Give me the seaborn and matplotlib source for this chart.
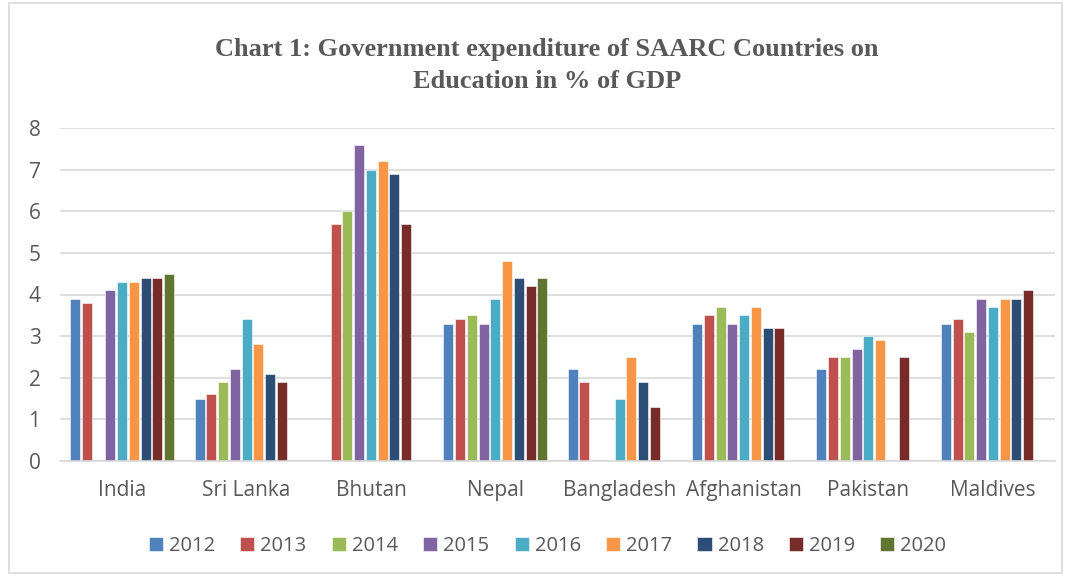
import numpy as np
import pandas as pd
import matplotlib.pyplot as plt
import seaborn as sns
from matplotlib.patches import Rectangle

countries = ["India", "Sri Lanka", "Bhutan", "Nepal", "Bangladesh",
             "Afghanistan", "Pakistan", "Maldives"]
years = ["2012", "2013", "2014", "2015", "2016", "2017", "2018", "2019", "2020"]

nan = np.nan
india = [3.9, 3.8, nan, 4.1, 4.3, 4.3, 4.4, 4.4, 4.5]
sri_lanka = [1.5, 1.6, 1.9, 2.2, 3.4, 2.8, 2.1, 1.9, nan]
bhutan = [nan, 5.7, 6.0, 7.6, 7.0, 7.2, 6.9, 5.7, nan]
nepal = [3.3, 3.4, 3.5, 3.3, 3.9, 4.8, 4.4, 4.2, 4.4]
bangladesh = [2.2, 1.9, nan, nan, 1.5, 2.5, 1.9, 1.3, nan]
afghanistan = [3.3, 3.5, 3.7, 3.3, 3.5, 3.7, 3.2, 3.2, nan]
pakistan = [2.2, 2.5, 2.5, 2.7, 3.0, 2.9, nan, 2.5, nan]
maldives = [3.3, 3.4, 3.1, 3.9, 3.7, 3.9, 3.9, 4.1, nan]

colors = ["#4F81BD", "#C0504D", "#9BBB59", "#8064A2", "#4BACC6",
          "#F79646", "#2C4D75", "#772C2A", "#5F7530"]

values = [india, sri_lanka, bhutan, nepal, bangladesh, afghanistan, pakistan, maldives]
rows = []
for c, vals in zip(countries, values):
    for y, v in zip(years, vals):
        rows.append({"country": c, "year": y, "value": v})
df = pd.DataFrame(rows)

sns.set_theme(style="white")
plt.rcParams['font.family'] = ['Open Sans', 'DejaVu Sans']

fig = plt.figure(figsize=(10.7, 5.76), dpi=100)
ax = fig.add_axes([60 / 1070, 115 / 576, 995 / 1070, 333 / 576])

sns.barplot(data=df, x="country", y="value", hue="year", order=countries,
            hue_order=years, palette=colors, saturation=1, width=0.85, gap=0.15,
            errorbar=None, ax=ax, legend=True, edgecolor="white", linewidth=0.4)

ax.set_ylim(0, 8)
ax.set_xlim(-0.5, len(countries) - 0.5)
ax.set_yticks(range(0, 9))
ax.yaxis.grid(True, color="#D9D9D9", linewidth=1.2)
ax.set_axisbelow(True)
for s in ["top", "right", "left"]:
    ax.spines[s].set_visible(False)
ax.spines["bottom"].set_color("#D9D9D9")
ax.spines["bottom"].set_linewidth(1.2)
ax.tick_params(axis="both", length=0, labelsize=15, colors="#595959")
ax.tick_params(axis="x", pad=14)
ax.tick_params(axis="y", pad=14)
ax.set_xlabel("")
ax.set_ylabel("")

# legend below the plot, in one row
leg = ax.legend(loc="center", bbox_to_anchor=(0.49, -0.255), ncol=9,
                frameon=False, fontsize=14.5, handlelength=0.7, handleheight=0.7,
                handletextpad=0.3, columnspacing=1.25, labelcolor="#595959")

fig.text(0.511, 0.887, "Chart 1: Government expenditure of SAARC Countries on\nEducation in % of GDP",
         ha="center", va="center", fontsize=19, fontweight="bold",
         family=["Liberation Serif", "DejaVu Serif"], color="#595959", linespacing=1.5)

fig.patches.append(Rectangle((9 / 1070, 3 / 576), 1053 / 1070, 570 / 576, transform=fig.transFigure,
                             fill=False, edgecolor="#D9D9D9", linewidth=1.2))

fig.savefig("out.png", dpi=100)
